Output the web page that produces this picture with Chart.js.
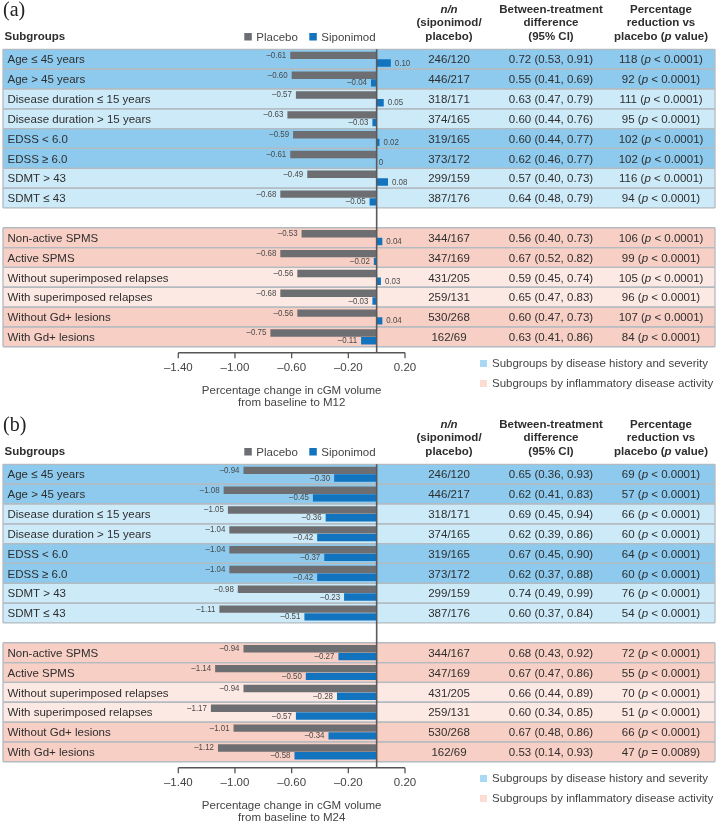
<!DOCTYPE html>
<html>
<head>
<meta charset="utf-8">
<script src="https://cdn.jsdelivr.net/npm/chart.js@4.4.0/dist/chart.umd.min.js"></script>
<style>
html,body{margin:0;padding:0;background:#fff;overflow:hidden}
#wrap{position:relative;width:718px;height:827px;overflow:hidden}
.panel{position:absolute;left:0;width:718px;height:415px}
</style>
</head>
<body>
<div id="wrap">
  <div class="panel" style="top:0"><canvas id="chartA" width="718" height="415"></canvas></div>
  <div class="panel" style="top:415px"><canvas id="chartB" width="718" height="415"></canvas></div>
</div>
<script>
// ---- data ----
var subgroups=["Age \u2264 45 years","Age > 45 years","Disease duration \u2264 15 years","Disease duration > 15 years",
  "EDSS < 6.0","EDSS \u2265 6.0","SDMT > 43","SDMT \u2264 43",
  "Non-active SPMS","Active SPMS","Without superimposed relapses","With superimposed relapses",
  "Without Gd+ lesions","With Gd+ lesions"];
var nSipPla=["246/120","446/217","318/171","374/165","319/165","373/172","299/159","387/176",
  "344/167","347/169","431/205","259/131","530/268","162/69"];

var placeboM12=[-0.61,-0.60,-0.57,-0.63,-0.59,-0.61,-0.49,-0.68,-0.53,-0.68,-0.56,-0.68,-0.56,-0.75];
var siponimodM12=[0.10,-0.04,0.05,-0.03,0.02,0,0.08,-0.05,0.04,-0.02,0.03,-0.03,0.04,-0.11];
var diffM12=["0.72 (0.53, 0.91)","0.55 (0.41, 0.69)","0.63 (0.47, 0.79)","0.60 (0.44, 0.76)","0.60 (0.44, 0.77)",
  "0.62 (0.46, 0.77)","0.57 (0.40, 0.73)","0.64 (0.48, 0.79)","0.56 (0.40, 0.73)","0.67 (0.52, 0.82)",
  "0.59 (0.45, 0.74)","0.65 (0.47, 0.83)","0.60 (0.47, 0.73)","0.63 (0.41, 0.86)"];
var reductionM12=[118,92,111,95,102,102,116,94,106,99,105,96,107,84];
var pValueM12=["< 0.0001","< 0.0001","< 0.0001","< 0.0001","< 0.0001","< 0.0001","< 0.0001",
  "< 0.0001","< 0.0001","< 0.0001","< 0.0001","< 0.0001","< 0.0001","< 0.0001"];

var placeboM24=[-0.94,-1.08,-1.05,-1.04,-1.04,-1.04,-0.98,-1.11,-0.94,-1.14,-0.94,-1.17,-1.01,-1.12];
var siponimodM24=[-0.30,-0.45,-0.36,-0.42,-0.37,-0.42,-0.23,-0.51,-0.27,-0.50,-0.28,-0.57,-0.34,-0.58];
var diffM24=["0.65 (0.36, 0.93)","0.62 (0.41, 0.83)","0.69 (0.45, 0.94)","0.62 (0.39, 0.86)","0.67 (0.45, 0.90)",
  "0.62 (0.37, 0.88)","0.74 (0.49, 0.99)","0.60 (0.37, 0.84)","0.68 (0.43, 0.92)","0.67 (0.47, 0.86)",
  "0.66 (0.44, 0.89)","0.60 (0.34, 0.85)","0.67 (0.48, 0.86)","0.53 (0.14, 0.93)"];
var reductionM24=[69,57,66,60,64,60,76,54,72,55,70,51,66,47];
var pValueM24=["< 0.0001","< 0.0001","< 0.0001","< 0.0001","< 0.0001","< 0.0001","< 0.0001",
  "< 0.0001","< 0.0001","< 0.0001","< 0.0001","< 0.0001","< 0.0001","= 0.0089"];

var xTicks=[-1.40,-1.00,-0.60,-0.20,0.20];
var seriesNames=["Placebo","Siponimod"];
var groupNames=["Subgroups by disease history and severity","Subgroups by inflammatory disease activity"];

// ---- styles ----
var FONT='"Liberation Sans", Arial, Helvetica, sans-serif';
var SERIF='"Liberation Serif", "Times New Roman", serif';
var MID='#8dcaee', LIGHT='#cdeaf8', PINK='#f8cfc4', PINKL='#fde9e3';
var rowFill=[MID,MID,LIGHT,LIGHT,MID,MID,LIGHT,LIGHT,PINK,PINK,PINKL,PINKL,PINK,PINK];
var barColors=['#6d6e71','#1273bf'];
var GAP=8;
var TL=3, TR=715;

function slot(i){ return i<GAP ? i : i+1; }
function withGap(a, fill){ return a.slice(0,GAP).concat([fill], a.slice(GAP)); }
function fmt(v){ return v===0 ? '0' : (v<0 ? '\u2013' : '') + Math.abs(v).toFixed(2); }

function rich(ctx, parts, cx, y){
  var w=0;
  parts.forEach(function(p){ ctx.font=p[1]; w+=ctx.measureText(p[0]).width; });
  var x=cx-w/2;
  ctx.textAlign='left';
  parts.forEach(function(p){ ctx.font=p[1]; ctx.fillText(p[0], x, y); x+=ctx.measureText(p[0]).width; });
}

var tablePlugin={
  id:'table',
  beforeDraw:function(chart, args, o){
    var ctx=chart.ctx, area=chart.chartArea, ys=chart.scales.y;
    var h=(area.bottom-area.top)/chart.data.labels.length;
    var N='11.5px '+FONT, B='bold 11.5px '+FONT;
    ctx.save();
    ctx.fillStyle='#fff'; ctx.fillRect(0,0,chart.width,chart.height);

    // row backgrounds
    subgroups.forEach(function(s,i){
      var cy=ys.getPixelForValue(slot(i));
      ctx.fillStyle=rowFill[i];
      ctx.fillRect(TL, cy-h/2, TR-TL, h);
    });
    // row rules
    ctx.strokeStyle='#b3bac0'; ctx.lineWidth=1.3;
    subgroups.forEach(function(s,i){
      var cy=ys.getPixelForValue(slot(i));
      ctx.beginPath();
      ctx.moveTo(TL, cy-h/2); ctx.lineTo(TR, cy-h/2);
      ctx.moveTo(TL, cy+h/2); ctx.lineTo(TR, cy+h/2);
      ctx.moveTo(TL, cy-h/2); ctx.lineTo(TL, cy+h/2);
      ctx.moveTo(TR, cy-h/2); ctx.lineTo(TR, cy+h/2);
      ctx.stroke();
    });

    // row texts
    ctx.textBaseline='middle';
    ctx.fillStyle='#2e2e2e';
    subgroups.forEach(function(s,i){
      var cy=ys.getPixelForValue(slot(i))+1;
      ctx.font=N; ctx.textAlign='left';
      ctx.fillText(s, 7.5, cy);
      ctx.textAlign='center';
      ctx.fillText(nSipPla[i], 449, cy);
      ctx.fillText(o.diff[i], 551, cy);
      rich(ctx, [[o.reduction[i]+' (', N], ['p', 'italic 11.5px '+FONT], [' '+o.pValue[i]+')', N]], 661, cy);
    });

    // panel letter
    ctx.fillStyle='#222';
    ctx.textBaseline='alphabetic'; ctx.textAlign='left';
    ctx.font='20px '+SERIF;
    ctx.fillText(o.letter, 3, 16);

    // header
    ctx.textBaseline='middle';
    ctx.fillStyle='#2e2e2e';
    ctx.font=B; ctx.textAlign='left';
    ctx.fillText('Subgroups', 4.5, 37);

    // series legend
    var lx=[244.3, 309.3];
    chart.data.datasets.forEach(function(ds, di){
      ctx.fillStyle=ds.backgroundColor;
      ctx.fillRect(lx[di], 33, 7.5, 7.5);
      ctx.fillStyle='#444'; ctx.font=N; ctx.textAlign='left';
      ctx.fillText(ds.label, lx[di]+12, 37.5);
    });

    // column headers
    ctx.fillStyle='#2e2e2e';
    rich(ctx, [['n/n', 'italic bold 11.5px '+FONT]], 449, 9.5);
    rich(ctx, [['(siponimod/', B]], 449, 23);
    rich(ctx, [['placebo)', B]], 449, 36.5);
    rich(ctx, [['Between-treatment', B]], 551, 9.5);
    rich(ctx, [['difference', B]], 551, 23);
    rich(ctx, [['(95% CI)', B]], 551, 36.5);
    rich(ctx, [['Percentage', B]], 661, 9.5);
    rich(ctx, [['reduction vs', B]], 661, 23);
    rich(ctx, [['placebo (', B], ['p', 'italic bold 11.5px '+FONT], [' value)', B]], 661, 36.5);

    // group legend
    var gCol=['#a8d8f3','#fcdcd3'];
    groupNames.forEach(function(g, gi){
      var y=363.5+gi*20;
      ctx.fillStyle=gCol[gi];
      ctx.fillRect(480, y-3.5, 7, 7);
      ctx.fillStyle='#444'; ctx.font=N; ctx.textAlign='left';
      ctx.fillText(g, 492, y);
    });
    ctx.restore();
  },
  afterDatasetsDraw:function(chart){
    var ctx=chart.ctx, area=chart.chartArea, xs=chart.scales.x;
    var x0=xs.getPixelForValue(0), axisY=area.bottom+6;
    ctx.save();
    // value labels
    ctx.fillStyle='#4a4a4a';
    ctx.textBaseline='middle';
    ctx.font='9px '+FONT;
    chart.data.datasets.forEach(function(ds, di){
      var meta=chart.getDatasetMeta(di);
      meta.data.forEach(function(el, k){
        var v=ds.data[k];
        if (v===null) return;
        var t=fmt(v);
        ctx.save();
        if (v<0){
          ctx.translate(el.x-4, el.y); ctx.scale(0.88,1);
          ctx.textAlign='right';
        } else {
          ctx.translate(v===0 ? el.x+2 : el.x+4, el.y); ctx.scale(0.88,1);
          ctx.textAlign='left';
        }
        ctx.fillText(t, 0, 0);
        ctx.restore();
      });
    });
    // zero reference line
    ctx.strokeStyle='#5a5a5a'; ctx.lineWidth=1.6;
    ctx.beginPath(); ctx.moveTo(x0, area.top); ctx.lineTo(x0, axisY); ctx.stroke();
    // axis line and tick marks
    ctx.strokeStyle='#555'; ctx.lineWidth=1.3;
    ctx.beginPath();
    ctx.moveTo(xs.getPixelForValue(xTicks[0]), axisY);
    ctx.lineTo(xs.getPixelForValue(xTicks[xTicks.length-1]), axisY);
    xs.ticks.forEach(function(t){
      var px=xs.getPixelForValue(t.value);
      ctx.moveTo(px, axisY); ctx.lineTo(px, axisY+5.5);
    });
    ctx.stroke();
    ctx.restore();
  }
};

function makeChart(id, letter, placebo, siponimod, diff, reduction, pValue, month){
  return new Chart(document.getElementById(id), {
    type:'bar',
    data:{
      labels:withGap(subgroups, ''),
      datasets:[
        {label:seriesNames[0], data:withGap(placebo, null), backgroundColor:barColors[0]},
        {label:seriesNames[1], data:withGap(siponimod, null), backgroundColor:barColors[1]}
      ]
    },
    options:{
      indexAxis:'y',
      responsive:false,
      animation:false,
      devicePixelRatio:1,
      categoryPercentage:0.78,
      barPercentage:0.96,
      layout:{padding:{left:178.3, right:313, top:49.3, bottom:6}},
      plugins:{
        legend:{display:false},
        tooltip:{enabled:false},
        table:{letter:letter, diff:diff, reduction:reduction, pValue:pValue}
      },
      scales:{
        y:{display:false},
        x:{
          type:'linear', min:-1.4, max:0.2,
          afterBuildTicks:function(s){ s.ticks=xTicks.map(function(v){ return {value:v}; }); },
          grid:{display:false, drawTicks:false},
          border:{display:false},
          ticks:{padding:14.4, color:'#444', font:{family:FONT, size:11.5},
            callback:function(v){ return fmt(v); }},
          title:{display:true, text:['Percentage change in cGM volume','from baseline to '+month],
            color:'#444', font:{family:FONT, size:11.5, lineHeight:1.05}, padding:{top:-4.5, bottom:0}}
        }
      }
    },
    plugins:[tablePlugin]
  });
}

makeChart('chartA','(a)', placeboM12, siponimodM12, diffM12, reductionM12, pValueM12, 'M12');
makeChart('chartB','(b)', placeboM24, siponimodM24, diffM24, reductionM24, pValueM24, 'M24');
</script>
</body>
</html>
